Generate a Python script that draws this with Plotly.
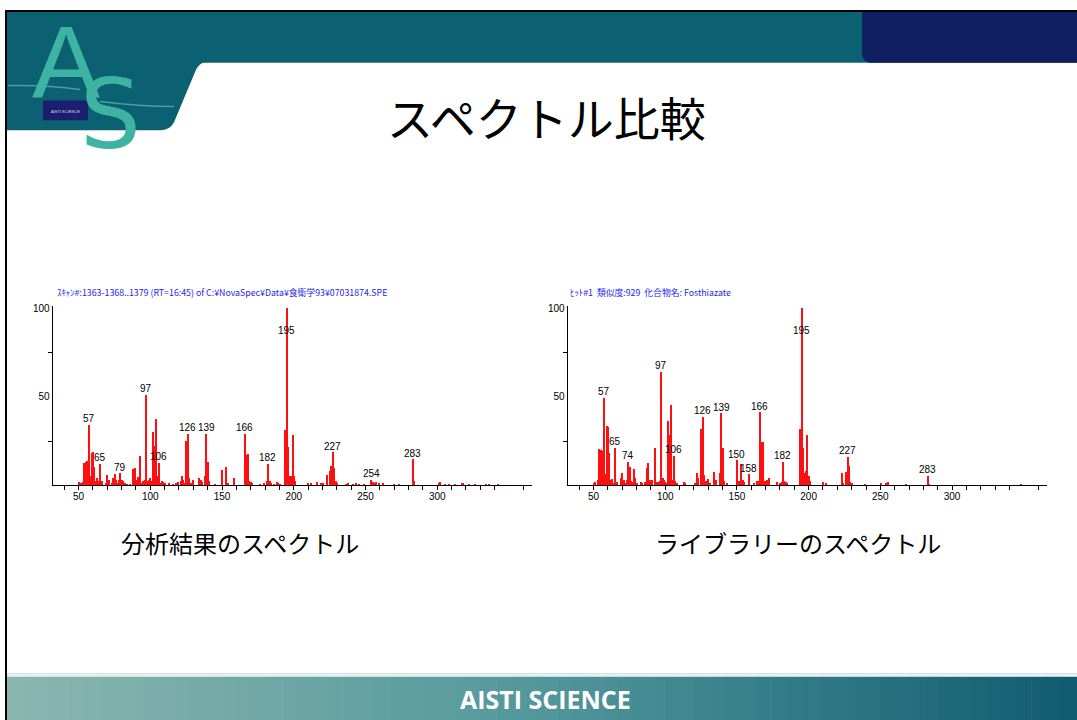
import plotly.graph_objects as go

# ---------------- data ----------------
left_title = "ｽｷｬﾝ#:1363-1368..1379 (RT=16:45) of C:¥NovaSpec¥Data¥食衛学93¥07031874.SPE"
right_title = "ﾋｯﾄ#1  類似度:929  化合物名: Fosthiazate"

left_mz = [50, 51, 52, 53, 54, 55, 56, 57, 58, 59, 60, 61, 62, 63, 64, 65, 66, 69, 70, 71,
           73, 74, 75, 76, 77, 78, 79, 80, 81, 82, 84, 86, 88, 89, 90, 91, 92, 93, 94, 95,
           96, 97, 98, 99, 100, 101, 102, 103, 104, 105, 106, 107, 108, 109, 110, 113, 116, 118, 119, 121,
           122, 123, 124, 125, 126, 127, 128, 130, 134, 135, 136, 138, 139, 140, 141, 145, 150, 153, 154, 158,
           166, 167, 168, 169, 170, 171, 176, 179, 181, 182, 183, 184, 186, 188, 189, 190, 194, 195, 196, 197,
           198, 199, 200, 201, 210, 212, 216, 219, 220, 223, 225, 226, 227, 228, 229, 230, 236, 238, 241, 243,
           245, 249, 254, 255, 256, 257, 259, 262, 270, 273, 283, 284, 301, 302, 305, 308, 312, 317, 318, 322,
           326, 334, 336, 342]
left_int = [1.5, 1, 1, 1.5, 12.5, 13, 13.5, 34, 5, 18, 18.5, 10, 2, 4, 2, 12, 2, 1, 5.5, 3,
            1, 4, 6, 3, 1, 3, 6.5, 3, 2, 1, 0.5, 0.5, 9, 9.5, 3, 4.5, 4.5, 16.5, 1, 2.5,
            3, 51, 2, 3, 4, 2, 30, 22, 37, 5, 12.5, 1, 2.5, 1.5, 1, 1, 0.5, 1, 1.5, 2,
            5, 3, 1, 25, 29, 4, 1, 3, 4, 3, 1.5, 5, 29, 13, 2, 0.5, 8.5, 10, 1, 4,
            29, 17, 17.5, 2, 1.5, 1, 0.5, 1, 2.5, 12, 2, 1, 0.5, 1.5, 1, 0.5, 31, 100, 21.5, 5,
            5, 28, 5, 2, 1, 1, 1.5, 1, 1, 5.5, 8, 10.5, 18.5, 9.5, 2.5, 1, 0.5, 1, 0.5, 1,
            0.5, 0.5, 3, 1.5, 1, 1.5, 1, 1, 0.5, 0.5, 14.5, 2, 1, 1.5, 0.5, 0.5, 0.5, 1, 1, 0.5,
            0.5, 0.5, 0.5, 0.5]
left_labels = [57, 65, 79, 97, 106, 126, 139, 166, 182, 195, 227, 254, 283]

right_mz = [50, 51, 53, 54, 55, 56, 57, 58, 59, 60, 61, 62, 63, 64, 65, 66, 69, 70, 71, 72,
            73, 74, 75, 76, 77, 78, 79, 80, 83, 84, 86, 87, 88, 89, 90, 91, 93, 94, 95, 96,
            97, 98, 99, 100, 101, 102, 103, 104, 105, 106, 107, 108, 113, 114, 121, 122, 123, 125, 126, 127,
            128, 130, 131, 134, 135, 138, 139, 140, 141, 143, 150, 151, 153, 154, 155, 158, 162, 164, 165, 166,
            167, 168, 169, 170, 171, 172, 178, 180, 181, 182, 183, 184, 185, 194, 195, 196, 197, 198, 199, 200,
            201, 210, 212, 223, 224, 226, 227, 228, 229, 230, 239, 250, 254, 255, 268, 283, 284, 348]
right_int = [1, 1.5, 3, 20.5, 20, 19, 49, 6, 33.5, 33, 18, 3, 3.5, 1, 21, 1.5, 4, 6.5, 3, 1,
             3, 13, 10, 2, 1.5, 9, 4, 1, 1.5, 1, 1.5, 9.5, 12.5, 3, 2.5, 3, 21, 1.5, 1.5, 2,
             64, 4, 3, 1.5, 1, 36, 28, 45, 3, 16.5, 2, 1, 1.5, 1, 1, 6.5, 4, 31.5, 38.5, 5.5,
             2, 3.5, 1, 7.5, 3, 7, 40.5, 21, 2.5, 1, 14, 2, 12, 3, 1.5, 6, 1, 2, 2, 41,
             24, 24, 2, 2, 3, 4, 1.5, 1, 1.5, 13, 2.5, 1.5, 1, 31.5, 100, 21, 7, 8, 28, 5,
             2.5, 1.5, 1, 7, 1, 7.5, 16, 11, 1.5, 1, 0.5, 1, 1, 1.5, 0.5, 5, 0.5, 0.5]
right_labels = [57, 65, 74, 97, 106, 126, 139, 150, 158, 166, 182, 195, 227, 283]

x_ticks = [50, 100, 150, 200, 250, 300]
y_ticks = [50, 100]

slide_title = "スペクトル比較"
left_caption = "分析結果のスペクトル"
right_caption = "ライブラリーのスペクトル"
footer_text = "AISTI SCIENCE"

# ---------------- helpers ----------------
W, H = 1077, 720


def px(x):
    return x / W


def py(y):
    return 1 - y / H


fig = go.Figure()
fig.add_trace(go.Bar(x=left_mz, y=left_int, width=0.9,
                     marker=dict(color="#ff1010", line=dict(width=0)),
                     xaxis="x", yaxis="y", hoverinfo="skip", showlegend=False))
fig.add_trace(go.Bar(x=right_mz, y=right_int, width=0.9,
                     marker=dict(color="#ff1010", line=dict(width=0)),
                     xaxis="x2", yaxis="y2", hoverinfo="skip", showlegend=False))

minor_x = [v for v in range(40, 370, 10) if v % 50]
tickfont = dict(family="Liberation Sans", size=10, color="black")


def xaxis_cfg(dom, anchor):
    return dict(domain=dom, anchor=anchor, range=[32, 366], showline=True, linecolor="black",
                linewidth=1, ticks="outside", ticklen=4, tickcolor="black", tickwidth=1,
                tickmode="array", tickvals=x_ticks, ticklabelstandoff=-2,
                minor=dict(tickmode="array", tickvals=minor_x, ticks="outside", ticklen=4,
                           tickcolor="black", tickwidth=1, showgrid=False),
                showgrid=False, zeroline=False, tickfont=tickfont, fixedrange=True)


def yaxis_cfg(dom, anchor):
    return dict(domain=dom, anchor=anchor, range=[0, 101], showline=True, linecolor="black",
                linewidth=1, ticks="", tickmode="array", tickvals=y_ticks,
                minor=dict(tickmode="array", tickvals=[25, 75], ticks="outside", ticklen=4,
                           tickcolor="black", tickwidth=1, showgrid=False),
                showgrid=False, zeroline=False, tickfont=tickfont, fixedrange=True)


ydom = [py(484), py(304)]
fig.update_layout(
    xaxis=xaxis_cfg([px(52.7), px(532)], "y"),
    yaxis=yaxis_cfg(ydom, "x"),
    xaxis2=xaxis_cfg([px(567.7), px(1046.7)], "y2"),
    yaxis2=yaxis_cfg(ydom, "x2"),
)

shapes = []
annotations = []


def note(text, x, y, font, xanchor="center", yanchor="middle", **kw):
    d = dict(text=text, x=x, y=y, xref="paper", yref="paper", showarrow=False,
             xanchor=xanchor, yanchor=yanchor, font=font)
    d.update(kw)
    annotations.append(d)


# footer gradient band
stops = [(0.0, (138, 182, 176)), (0.5, (82, 151, 155)), (1.0, (16, 92, 112))]


def grad(t):
    for (t0, c0), (t1, c1) in zip(stops[:-1], stops[1:]):
        if t <= t1:
            f = (t - t0) / (t1 - t0)
            return "rgb(%d,%d,%d)" % tuple(round(a + (b - a) * f) for a, b in zip(c0, c1))
    return "rgb(%d,%d,%d)" % stops[-1][1]


N = 70
x0f, x1f = 7, W
for i in range(N):
    xa = x0f + (x1f - x0f) * i / N
    xb = x0f + (x1f - x0f) * (i + 1) / N + 0.6
    shapes.append(dict(type="rect", xref="paper", yref="paper", x0=px(xa), x1=px(xb),
                       y0=py(720), y1=py(676), fillcolor=grad(i / (N - 1)), line=dict(width=0),
                       layer="below"))
shapes.append(dict(type="line", xref="paper", yref="paper", x0=px(7), x1=1, y0=py(675.5), y1=py(675.5),
                   line=dict(color="#e4eff0", width=2), layer="below"))
shapes.append(dict(type="line", xref="paper", yref="paper", x0=px(7), x1=1, y0=py(673.5), y1=py(673.5),
                   line=dict(color="#c8d4d8", width=1), layer="below"))

# header teal
teal = "#0b6171"
shapes.append(dict(type="rect", xref="paper", yref="paper", x0=px(7), x1=1, y0=py(59), y1=py(8),
                   fillcolor=teal, line=dict(width=0), layer="below"))
path = "M %f,%f L %f,%f Q %f,%f %f,%f L %f,%f Q %f,%f %f,%f L %f,%f Z" % (
    px(7), py(58), px(205), py(58), px(199), py(60), px(196), py(66),
    px(174), py(119), px(170), py(127), px(160), py(127), px(7), py(127))
shapes.append(dict(type="path", xref="paper", yref="paper", path=path, fillcolor=teal,
                   line=dict(width=0), layer="below"))
# navy block on the right
npath = "M %f,%f L %f,%f L %f,%f L %f,%f Q %f,%f %f,%f Z" % (
    px(862), py(8), 1, py(8), 1, py(59), px(870), py(59), px(863), py(58), px(862), py(51))
shapes.append(dict(type="path", xref="paper", yref="paper", path=npath, fillcolor="#101f62",
                   line=dict(width=0), layer="below"))
# faint lines in header
shapes.append(dict(type="path", xref="paper", yref="paper",
                   path="M %f,%f Q %f,%f %f,%f" % (px(8), py(82), px(45), py(81), px(80), py(86)),
                   line=dict(color="#4f9ba6", width=1.5), layer="below"))
shapes.append(dict(type="path", xref="paper", yref="paper",
                   path="M %f,%f Q %f,%f %f,%f" % (px(100), py(98), px(140), py(103), px(174), py(103)),
                   line=dict(color="#4f9ba6", width=1.5), layer="below"))
# small navy box of logo
shapes.append(dict(type="rect", xref="paper", yref="paper", x0=px(43), x1=px(88), y0=py(117), y1=py(97),
                   fillcolor="#1c1f70", line=dict(width=0), layer="below"))

# black border
shapes.append(dict(type="line", xref="paper", yref="paper", x0=px(6), x1=px(6), y0=0, y1=py(6),
                   line=dict(color="black", width=2)))
shapes.append(dict(type="line", xref="paper", yref="paper", x0=px(5), x1=1, y0=py(7), y1=py(7),
                   line=dict(color="black", width=2)))

# logo letters
note("A", px(66), py(97), dict(family="Liberation Sans", size=102, color="#3db3a1"),
     yanchor="bottom", yshift=-22)
note("S", px(110), py(112), dict(family="DejaVu Sans", size=96, color="#3db3a1"))
note("AISTI SCIENCE", px(65.5), py(108), dict(family="Liberation Sans", size=4, color="#dde"))

# titles
note(slide_title, px(546), py(113), dict(family="Noto Sans CJK JP", size=46, color="black"))
note(left_caption, px(240), py(542), dict(family="Noto Sans CJK JP", size=24, color="black"))
note(right_caption, px(798), py(542), dict(family="Noto Sans CJK JP", size=24, color="black"))
note(footer_text, px(545), py(699), dict(family="Open Sans", size=25, color="white", weight=700))

# spectrum headers
note(left_title, px(55), py(290), dict(family="Noto Sans CJK JP", size=8.8, color="#2525f0"),
     xanchor="left")
note(right_title, px(568), py(290), dict(family="Noto Sans CJK JP", size=8.8, color="#2525f0"),
     xanchor="left")

# peak labels
lab_font = dict(family="Liberation Sans", size=10, color="black")
for mzs, ints, labels, xr, yr in [(left_mz, left_int, left_labels, "x", "y"),
                                  (right_mz, right_int, right_labels, "x2", "y2")]:
    lookup = dict(zip(mzs, ints))
    for m in labels:
        v = lookup[m]
        if v >= 99:
            annotations.append(dict(text=str(m), x=m, y=v, xref=xr, yref=yr, showarrow=False,
                                    xanchor="center", yanchor="top", yshift=-15, font=lab_font))
        else:
            annotations.append(dict(text=str(m), x=m, y=v, xref=xr, yref=yr, showarrow=False,
                                    xanchor="center", yanchor="bottom", yshift=-1, font=lab_font))

fig.update_layout(shapes=shapes, annotations=annotations, width=W, height=H,
                  margin=dict(l=0, r=0, t=0, b=0), paper_bgcolor="white",
                  plot_bgcolor="rgba(0,0,0,0)", showlegend=False, bargap=0)

fig.write_html("out.html", config={"displayModeBar": False},
               post_script="document.body.style.margin='0';document.body.style.overflow='hidden';")
